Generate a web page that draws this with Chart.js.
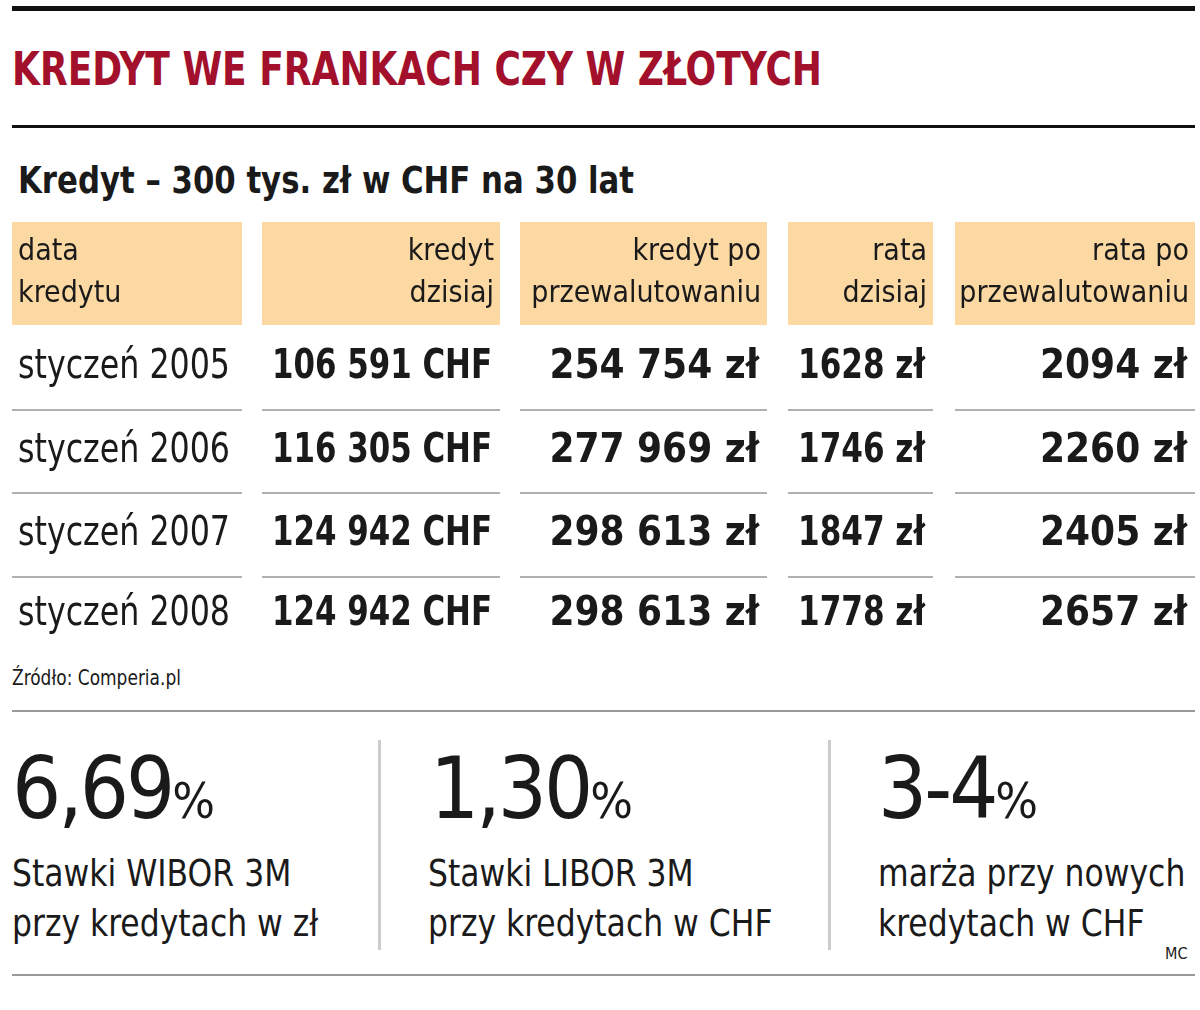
<!DOCTYPE html>
<html><head><meta charset="utf-8">
<script src="https://cdn.jsdelivr.net/npm/chart.js@4"></script>
<style>
body{margin:0;background:#fff;width:1200px;height:1010px;position:relative;overflow:hidden;font-family:"DejaVu Sans Condensed","Liberation Sans Narrow",sans-serif;color:#1a1a1a}
.a{position:absolute;white-space:nowrap;transform-origin:left top}
.big{font-size:86px;letter-spacing:-3px;line-height:1}
.big span{font-size:50px;letter-spacing:0}
.desc{font-size:38px;line-height:50px;transform:scaleX(0.92)}
</style></head><body>
<div class="a" style="left:12px;top:6px;width:1183px;height:5px;background:#111"></div>
<div class="a" style="left:12px;top:42px;font-size:46px;font-weight:bold;color:#a3102c;transform:scaleX(0.87)">KREDYT WE FRANKACH CZY W ZŁOTYCH</div>
<div class="a" style="left:12px;top:125px;width:1183px;height:3px;background:#111"></div>
<div class="a" style="left:18px;top:158px;font-size:38px;font-weight:bold;transform:scaleX(0.9)">Kredyt – 300 tys. zł w CHF na 30 lat</div>
<div class="a" style="left:0;top:218px;width:1200px;height:440px"><canvas id="c" width="1200" height="440"></canvas></div>
<div class="a" style="left:12px;top:666px;font-size:21px;transform:scaleX(0.9)">Źródło: Comperia.pl</div>
<div class="a" style="left:12px;top:710px;width:1183px;height:2px;background:#999"></div>
<div class="a" style="left:378px;top:740px;width:3px;height:210px;background:#ccc"></div>
<div class="a" style="left:828px;top:740px;width:3px;height:210px;background:#ccc"></div>
<div class="a big" style="left:12px;top:745px">6,69<span>%</span></div>
<div class="a big" style="left:430px;top:745px">1,30<span>%</span></div>
<div class="a big" style="left:878px;top:745px">3-4<span>%</span></div>
<div class="a desc" style="left:12px;top:848px">Stawki WIBOR 3M<br>przy kredytach w zł</div>
<div class="a desc" style="left:428px;top:848px">Stawki LIBOR 3M<br>przy kredytach w CHF</div>
<div class="a desc" style="left:878px;top:848px">marża przy nowych<br>kredytach w CHF</div>
<div class="a" style="left:1165px;top:944px;font-size:16px">MC</div>
<div class="a" style="left:12px;top:974px;width:1183px;height:2px;background:#999"></div>
<script>
const columns=[["data","kredytu"],["kredyt","dzisiaj"],["kredyt po","przewalutowaniu"],["rata","dzisiaj"],["rata po","przewalutowaniu"]];
const dates=["styczeń 2005","styczeń 2006","styczeń 2007","styczeń 2008"];
const kredytDzisiaj=["106 591 CHF","116 305 CHF","124 942 CHF","124 942 CHF"];
const kredytPo=["254 754 zł","277 969 zł","298 613 zł","298 613 zł"];
const rataDzisiaj=["1628 zł","1746 zł","1847 zł","1778 zł"];
const rataPo=["2094 zł","2260 zł","2405 zł","2657 zł"];
const rows=["header"].concat(dates);
const F='"DejaVu Sans Condensed","Liberation Sans Narrow",sans-serif';
// layout: column edges on the 0..1200 pixel-mapped x axis
const EDGES=[[12,242],[262,500],[520,767],[788,933],[955,1195]];
const ROWB=[4,107,192,275,359,434]; // row boundaries (y axis units)
const tablePlugin={id:'tbl',afterDraw(ch){
 const c=ch.ctx,x=ch.scales.x,y=ch.scales.y;
 const cols=[dates,kredytDzisiaj,kredytPo,rataDzisiaj,rataPo];
 c.save();c.textBaseline='middle';
 columns.forEach((h,i)=>{
  const l=x.getPixelForValue(EDGES[i][0]),r=x.getPixelForValue(EDGES[i][1]);
  const t=y.getPixelForValue(ROWB[0]),b=y.getPixelForValue(ROWB[1]);
  c.fillStyle='#fcd9a2';c.fillRect(l,t,r-l,b-t);
  c.fillStyle='#1a1a1a';c.font='30px '+F;
  c.textAlign=i?'right':'left';
  const tx=i?r-6:l+6,mw=r-l-10,cy=(t+b)/2;
  c.fillText(h[0],tx,cy-21,mw);c.fillText(h[1],tx,cy+21,mw);
  cols[i].forEach((v,j)=>{
   const rt=y.getPixelForValue(ROWB[j+1]),rb=y.getPixelForValue(ROWB[j+2]);
   if(j>0){c.strokeStyle='#b0b0b0';c.lineWidth=2;
    c.beginPath();c.moveTo(l,rt);c.lineTo(r,rt);c.stroke();}
   c.fillStyle='#1a1a1a';c.font=(i?'bold ':'')+'40px '+F;
   c.fillText(v,i?r-8:l+6,(rt+rb)/2,r-l-18);
  });
 });
 c.restore();
}};
new Chart(document.getElementById('c'),{type:'scatter',
 data:{datasets:[{data:[]}]},
 options:{responsive:false,animation:false,events:[],
  layout:{padding:0},
  plugins:{legend:{display:false},tooltip:{enabled:false}},
  scales:{x:{type:'linear',min:0,max:1200,display:false},
          y:{type:'linear',min:0,max:440,reverse:true,display:false}}},
 plugins:[tablePlugin]});
</script>
</body></html>
